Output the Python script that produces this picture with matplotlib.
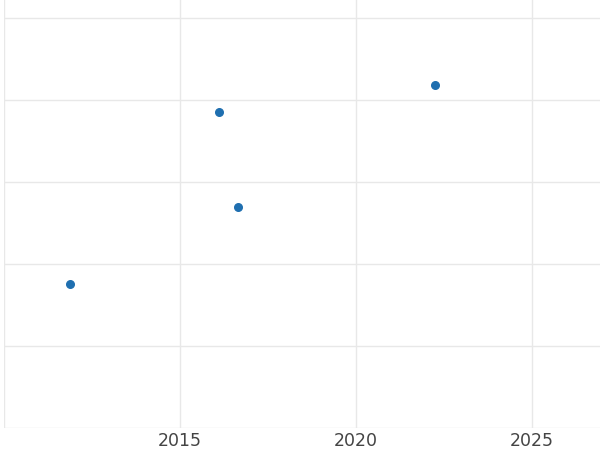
import matplotlib
matplotlib.use("Agg")
import matplotlib.pyplot as plt

years = [2011.88, 2016.1, 2016.65, 2022.24]
values = [1.76, 3.85, 2.70, 4.18]

fig = plt.figure(figsize=(6, 4.5), dpi=100)
ax = fig.add_axes([4/600, 1-428/450, 596/600, 428/450])
ax.scatter(years, values, s=30, color="#1f6fb0", zorder=3)
ax.set_xlim(2010.0, 2026.93)
ax.set_ylim(0, 428/82)
ax.set_xticks([2010, 2015, 2020, 2025])
ax.set_xticklabels(["", "2015", "2020", "2025"])
ax.set_yticks([0, 1, 2, 3, 4, 5])
ax.set_yticklabels([])
ax.grid(True, color="#e8e8e8", linewidth=1)
for s in ax.spines.values():
    s.set_visible(False)
ax.tick_params(length=0, labelsize=12.5, labelcolor="#444444", pad=3)
fig.savefig("out.png", dpi=100)
